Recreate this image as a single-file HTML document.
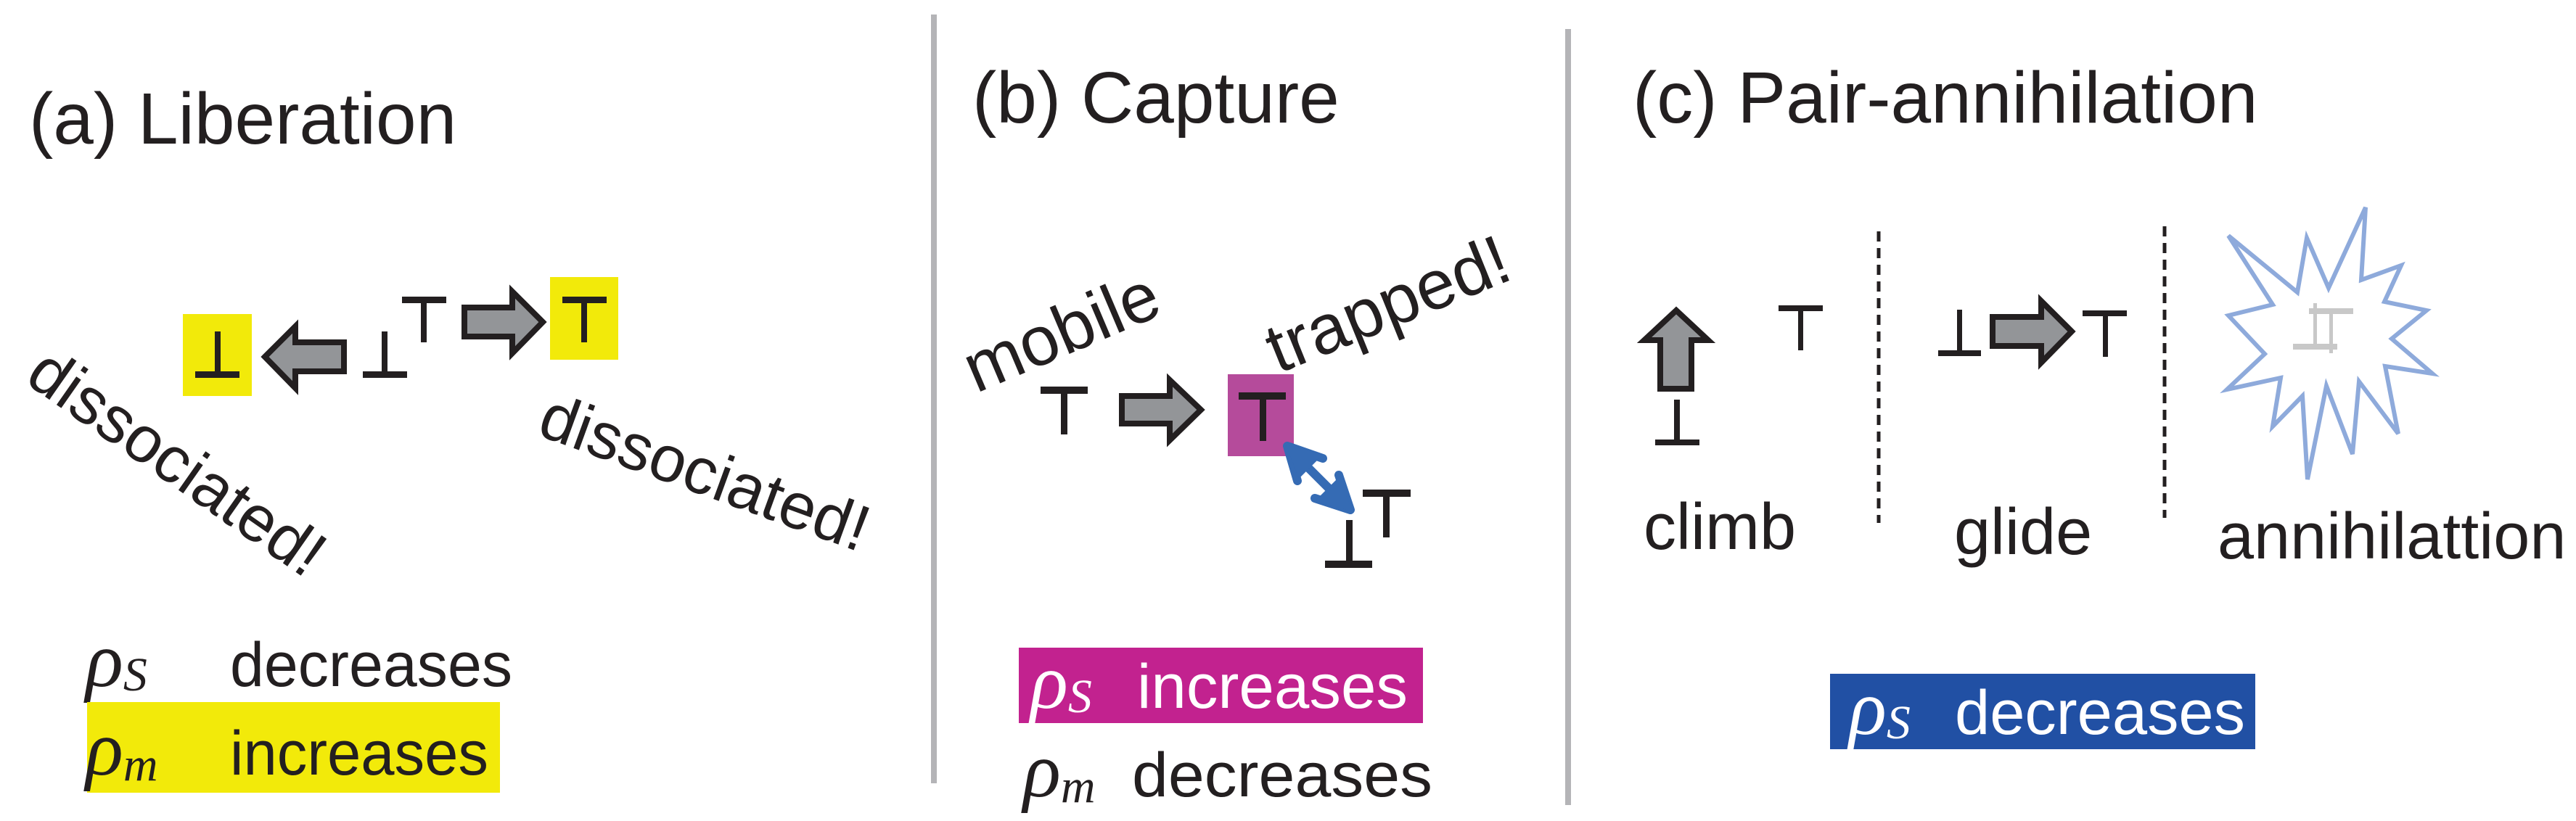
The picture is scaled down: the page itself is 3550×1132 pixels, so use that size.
<!DOCTYPE html>
<html><head><meta charset="utf-8"><style>
html,body{margin:0;padding:0;background:#fff;}
svg{display:block;}
text{font-family:"Liberation Sans",sans-serif;fill:#231f20;}
.g{font-family:"Liberation Serif",serif;font-style:italic;}
</style></head><body>
<svg width="3550" height="1132" viewBox="0 0 3550 1132" xmlns="http://www.w3.org/2000/svg">
<!-- dividers -->
<rect x="1283" y="20" width="8" height="1060" fill="#b4b4b7"/>
<rect x="2157" y="40" width="8" height="1070" fill="#b4b4b7"/>

<!-- titles -->
<text x="40" y="198" font-size="100">(a) Liberation</text>
<text x="1340" y="169" font-size="100">(b) Capture</text>
<text x="2250" y="169" font-size="100">(c) Pair-annihilation</text>

<!-- Panel a -->
<rect x="252" y="433" width="95" height="113" fill="#f2ea0a"/>
<g fill="#231f20">
<rect x="296" y="457" width="8" height="60"/><rect x="269" y="512" width="61" height="9"/>
<rect x="526" y="457" width="8" height="60"/><rect x="500" y="512" width="61" height="9"/>
<rect x="554" y="409" width="61" height="9"/><rect x="580" y="409" width="8" height="63"/>
</g>
<polygon points="365,492 407,450 407,472 474,472 474,512 407,512 407,535" fill="#939598" stroke="#231f20" stroke-width="8"/>
<polygon points="748,444 706,402 706,424 640,424 640,464 706,464 706,487" fill="#939598" stroke="#231f20" stroke-width="8"/>
<rect x="758" y="382" width="94" height="114" fill="#f2ea0a"/>
<g fill="#231f20"><rect x="775" y="409" width="61" height="9"/><rect x="801" y="409" width="8" height="63"/></g>
<text font-size="90" text-anchor="middle" transform="translate(245,636) rotate(35)" dy="32">dissociated!</text>
<text font-size="90" text-anchor="middle" transform="translate(972,650) rotate(20)" dy="32">dissociated!</text>

<text x="118" y="946" font-size="108" class="g">ρ<tspan font-size="66" dy="6">S</tspan></text>
<text x="317" y="946" font-size="86" textLength="389" lengthAdjust="spacingAndGlyphs">decreases</text>
<rect x="120" y="968" width="569" height="125" fill="#f2ea0a"/>
<text x="118" y="1068" font-size="108" class="g">ρ<tspan font-size="66" dy="8">m</tspan></text>
<text x="317" y="1068" font-size="86" textLength="356" lengthAdjust="spacingAndGlyphs">increases</text>

<!-- Panel b -->
<text font-size="96" text-anchor="middle" transform="translate(1462,456) rotate(-23)" dy="34">mobile</text>
<text font-size="96" text-anchor="middle" transform="translate(1912,418) rotate(-22)" dy="34">trapped!</text>
<g fill="#231f20"><rect x="1434" y="533" width="65" height="10"/><rect x="1462" y="533" width="9" height="66"/></g>
<polygon points="1655,565 1612,524 1612,546 1546,546 1546,584 1612,584 1612,607" fill="#939598" stroke="#231f20" stroke-width="8"/>
<rect x="1692" y="516" width="91" height="113" fill="#b54b9b"/>
<g fill="#231f20"><rect x="1707" y="541" width="65" height="10"/><rect x="1736" y="541" width="9" height="67"/>
<rect x="1878" y="675" width="66" height="10"/><rect x="1906" y="675" width="9" height="66"/>
<rect x="1855" y="717" width="9" height="62"/><rect x="1826" y="773" width="65" height="10"/></g>
<g stroke="#356bb4" stroke-width="12" stroke-linecap="round" stroke-linejoin="round" fill="none">
<line x1="1780" y1="622" x2="1855" y2="697"/>
<polyline points="1823,632 1774,615 1788,663"/>
<polyline points="1845,655 1861,703 1812,687"/>
</g>
<polygon points="1772,613 1823,627 1790,660" fill="#356bb4"/>
<polygon points="1863,705 1813,690 1846,657" fill="#356bb4"/>
<rect x="1404" y="893" width="557" height="104" fill="#c2228f"/>
<text x="1420" y="976" font-size="108" class="g" style="fill:#fff">ρ<tspan font-size="66" dy="6">S</tspan></text>
<text x="1567" y="976" font-size="86" style="fill:#fff" textLength="373" lengthAdjust="spacingAndGlyphs">increases</text>
<text x="1410" y="1098" font-size="108" class="g">ρ<tspan font-size="66" dy="8">m</tspan></text>
<text x="1560" y="1098" font-size="86" textLength="414" lengthAdjust="spacingAndGlyphs">decreases</text>

<!-- Panel c -->
<polygon points="2310,428 2266,469 2288,469 2288,536 2331,536 2331,469 2354,469" fill="#939598" stroke="#231f20" stroke-width="8"/>
<g fill="#231f20">
<rect x="2307" y="551" width="8" height="57"/><rect x="2281" y="606" width="61" height="8"/>
<rect x="2451" y="421" width="61" height="8"/><rect x="2478" y="421" width="7" height="62"/>
<rect x="2697" y="427" width="7" height="58"/><rect x="2671" y="483" width="59" height="8"/>
<rect x="2870" y="428" width="61" height="8"/><rect x="2898" y="428" width="7" height="64"/>
</g>
<polygon points="2855,457 2813,415 2813,437 2746,437 2746,477 2813,477 2813,500" fill="#939598" stroke="#231f20" stroke-width="8"/>
<line x1="2589" y1="319" x2="2589" y2="721" stroke="#231f20" stroke-width="5" stroke-dasharray="14,9"/>
<line x1="2983" y1="312" x2="2983" y2="714" stroke="#231f20" stroke-width="5" stroke-dasharray="14,9"/>
<polygon points="3260,286 3254,386 3309,366 3286,416 3344,428 3296,467 3352,515 3287,505 3305,598 3251,526 3242,626 3206,532 3180,661 3173,546 3132,588 3143,521 3069,537 3121,488 3071,435 3132,420 3071,325 3166,403 3179,328 3209,397" fill="#fff" stroke="#8eaadb" stroke-width="6"/>
<g fill="#c8c8c8">
<rect x="3182" y="425" width="61" height="8"/><rect x="3188" y="418" width="5" height="61"/>
<rect x="3160" y="474" width="61" height="8"/><rect x="3210" y="429" width="5" height="58"/>
</g>
<text x="2265" y="757" font-size="90">climb</text>
<text x="2693" y="764" font-size="90">glide</text>
<text x="3056" y="770" font-size="90">annihilattion</text>
<rect x="2522" y="929" width="586" height="104" fill="#2150a4"/>
<text x="2548" y="1012" font-size="108" class="g" style="fill:#fff">ρ<tspan font-size="66" dy="6">S</tspan></text>
<text x="2694" y="1012" font-size="86" style="fill:#fff" textLength="400" lengthAdjust="spacingAndGlyphs">decreases</text>
</svg>
</body></html>
